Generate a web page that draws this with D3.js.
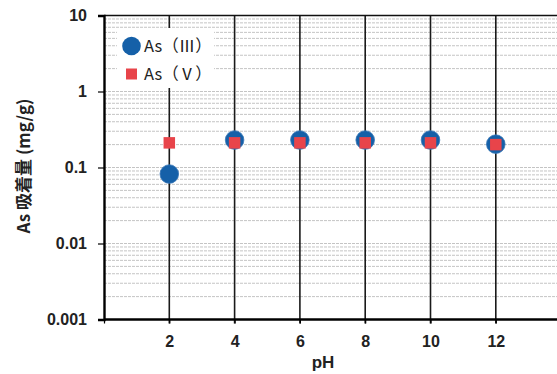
<!DOCTYPE html>
<html><head><meta charset="utf-8">
<script src="https://cdn.jsdelivr.net/npm/d3@7"></script>
<style>
html,body{margin:0;padding:0;background:#fff;}
svg{display:block;}
</style></head>
<body>
<svg id="chart" width="557" height="374"></svg>
<script>
const phValues = [2, 4, 6, 8, 10, 12];
const as3Values = [0.082, 0.23, 0.23, 0.23, 0.23, 0.203];
const as5Values = [0.211, 0.211, 0.211, 0.211, 0.211, 0.20];
const xTicks = [2, 4, 6, 8, 10, 12, 14];
const yTicks = [0.001, 0.01, 0.1, 1, 10];
const yTickLabels = ["0.001", "0.01", "0.1", "1", "10"];
const seriesNames = ["As（Ⅲ）", "As（Ⅴ）"];
const xTitle = "pH";
const yTitle = "As 吸着量 (mg/g)";

(function () {
const svg = d3.select("#chart");
const pLeft = 104, pTop = 15.5, pBottom = 319.5, pRight = 600;
const x = d3.scaleLinear().domain([0, 14]).range([pLeft, pLeft + 7 * 65.3]);
const y = d3.scaleLog().domain([0.001, 10]).range([pBottom, pTop]);
const fontNum = "'Liberation Sans', Arial, sans-serif";

const gridVals = [];
for (let e = -3; e < 1; e++) for (let m = 1; m <= 9; m++) gridVals.push(m * Math.pow(10, e));
svg.append("g").selectAll("line").data(gridVals.filter(v => v > 0.001)).join("line")
  .attr("x1", pLeft).attr("x2", pRight)
  .attr("y1", d => y(d)).attr("y2", d => y(d))
  .attr("stroke", "#c4c4c4").attr("stroke-width", 1).attr("stroke-dasharray", "3,1");

svg.append("g").selectAll("line").data(xTicks).join("line")
  .attr("x1", d => x(d)).attr("x2", d => x(d))
  .attr("y1", pTop).attr("y2", pBottom + 4)
  .attr("stroke", "#1a1a1a").attr("stroke-width", 1.6);

svg.append("line").attr("x1", pLeft).attr("x2", pRight).attr("y1", pTop).attr("y2", pTop)
  .attr("stroke", "#111").attr("stroke-width", 1.6);

const yAxis = d3.axisLeft(y).tickValues(yTicks).tickSize(6).tickFormat((d, i) => yTickLabels[i]);
const gy = svg.append("g").attr("transform", `translate(${pLeft},0)`).call(yAxis);
gy.select(".domain").attr("stroke", "#000").attr("stroke-width", 2.4);
gy.selectAll(".tick line").attr("stroke", "#000").attr("stroke-width", 1.2);
gy.selectAll(".tick text").attr("x", -17).attr("font-family", fontNum)
  .attr("font-weight", "bold").attr("font-size", 16).attr("fill", "#222");

const xAxis = d3.axisBottom(x).tickValues([0].concat(xTicks)).tickSize(4)
  .tickFormat(d => (d === 0 || d === 14) ? "" : d);
const gx = svg.append("g").attr("transform", `translate(0,${pBottom})`).call(xAxis);
gx.select(".domain").attr("stroke", "#000").attr("stroke-width", 2.4).attr("d", `M${pLeft},0H${pRight}`);
gx.selectAll(".tick line").attr("stroke", "#000").attr("stroke-width", 1.2);
gx.selectAll(".tick text").attr("y", 16).attr("font-family", fontNum)
  .attr("font-weight", "bold").attr("font-size", 16).attr("fill", "#222");

svg.append("text").attr("x", 323).attr("y", 368).attr("text-anchor", "middle")
  .attr("font-family", fontNum).attr("font-weight", "bold").attr("font-size", 17).attr("fill", "#222")
  .text(xTitle);
svg.append("text").attr("transform", "translate(30,166) rotate(-90)").attr("text-anchor", "middle")
  .attr("font-family", "'Noto Sans CJK JP', sans-serif").attr("font-weight", "bold")
  .attr("font-size", 17).attr("fill", "#222").text(yTitle);

svg.append("g").selectAll("circle").data(phValues).join("circle")
  .attr("cx", d => x(d)).attr("cy", (d, i) => y(as3Values[i])).attr("r", 9.3)
  .attr("fill", "#1560a8").attr("stroke", "#3b78b8").attr("stroke-width", 0.8);
const sq = 11.5;
svg.append("g").selectAll("rect").data(phValues).join("rect")
  .attr("x", d => x(d) - sq / 2).attr("y", (d, i) => y(as5Values[i]) - sq / 2)
  .attr("width", sq).attr("height", sq).attr("fill", "#e8444a");

const lg = svg.append("g");
lg.append("rect").attr("x", 117).attr("y", 28).attr("width", 97).attr("height", 60).attr("fill", "#fff");
lg.append("circle").attr("cx", 131.5).attr("cy", 46).attr("r", 9.3).attr("fill", "#1560a8");
lg.append("rect").attr("x", 131.5 - 5.5).attr("y", 74 - 5.5).attr("width", 11).attr("height", 11).attr("fill", "#e8444a");
lg.selectAll("text").data(seriesNames).join("text")
  .attr("x", 144).attr("y", (d, i) => 46 + i * 28 + 6)
  .attr("font-family", "'Noto Sans CJK JP', sans-serif").attr("font-size", 16.5).attr("fill", "#222")
  .text(d => d);
})();
</script>
</body></html>
